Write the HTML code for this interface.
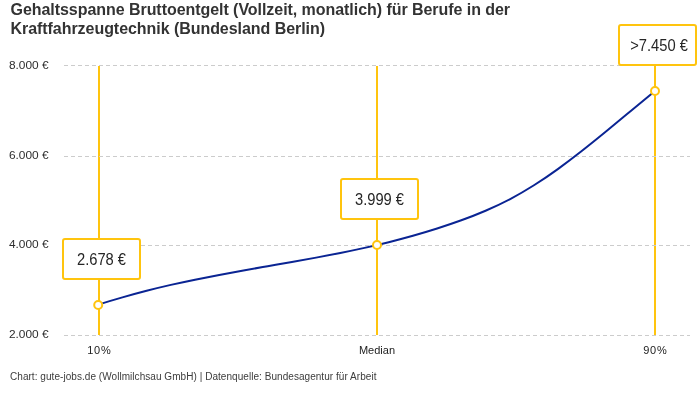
<!DOCTYPE html>
<html><head><meta charset="utf-8"><title>Gehaltsspanne</title>
<style>
html,body{margin:0;padding:0;background:#fff;width:700px;height:400px;overflow:hidden}
svg{display:block;will-change:transform}
text{font-family:"Liberation Sans",sans-serif}
.ti{font-size:16px;font-weight:bold;fill:#333;letter-spacing:-0.05px}
.yl{font-size:11px;fill:#2e2e2e}
.xl{font-size:11px;fill:#222}
.bt{font-size:16px;fill:#262626}
.ft{font-size:10px;fill:#3c3c3c;letter-spacing:0.05px}
</style></head>
<body>
<svg width="700" height="400" viewBox="0 0 700 400">
<text x="10.5" y="15" class="ti">Gehaltsspanne Bruttoentgelt (Vollzeit, monatlich) für Berufe in der</text>
<text x="10.5" y="34" class="ti">Kraftfahrzeugtechnik (Bundesland Berlin)</text>
<rect x="98" y="66" width="2" height="269" fill="#FFC40E"/>
<rect x="376" y="66" width="2" height="269" fill="#FFC40E"/>
<rect x="654" y="66" width="2" height="269" fill="#FFC40E"/>
<line x1="64" y1="65.5" x2="690" y2="65.5" stroke="#cccccc" stroke-width="1" stroke-dasharray="4 3"/>
<text transform="translate(48.5,68.7) scale(1.08,1)" class="yl" text-anchor="end">8.000 €</text>
<line x1="64" y1="156.5" x2="690" y2="156.5" stroke="#cccccc" stroke-width="1" stroke-dasharray="4 3"/>
<text transform="translate(48.5,158.7) scale(1.08,1)" class="yl" text-anchor="end">6.000 €</text>
<line x1="64" y1="245.5" x2="690" y2="245.5" stroke="#cccccc" stroke-width="1" stroke-dasharray="4 3"/>
<text transform="translate(48.5,247.9) scale(1.08,1)" class="yl" text-anchor="end">4.000 €</text>
<line x1="64" y1="335.5" x2="690" y2="335.5" stroke="#cccccc" stroke-width="1" stroke-dasharray="4 3"/>
<text transform="translate(48.5,337.9) scale(1.08,1)" class="yl" text-anchor="end">2.000 €</text>
<path d="M98.20,304.60C106.27,302.10 114.34,299.68 122.41,297.37C130.48,295.06 138.55,292.86 146.62,290.78C154.69,288.69 162.76,286.74 170.83,284.90C178.90,283.06 186.97,281.32 195.03,279.66C203.10,278.01 211.17,276.43 219.24,274.91C227.31,273.39 235.38,271.92 243.45,270.48C251.52,269.04 259.59,267.64 267.66,266.23C275.73,264.82 283.80,263.42 291.87,262.00C299.94,260.57 308.01,259.13 316.08,257.63C324.15,256.14 332.22,254.59 340.29,252.98C348.36,251.36 356.43,249.67 364.50,247.88C372.57,246.09 380.63,244.20 388.70,242.19C396.77,240.18 404.84,238.05 412.91,235.77C420.98,233.50 429.05,231.09 437.12,228.52C445.19,225.95 453.26,223.23 461.33,220.30C469.40,217.37 477.47,214.23 485.54,210.76C493.61,207.30 501.68,203.51 509.75,199.29C517.82,195.07 525.89,190.39 533.96,185.28C542.03,180.17 550.10,174.65 558.17,168.82C566.23,162.99 574.30,156.86 582.37,150.53C590.44,144.19 598.51,137.66 606.58,131.04C614.65,124.42 622.72,117.70 630.79,111.00C638.86,104.30 646.93,97.62 655.00,91.05" fill="none" stroke="#0A2493" stroke-width="2"/>
<rect x="63" y="239" width="77" height="40" rx="2" fill="#fff" stroke="#FFC40E" stroke-width="2"/><text transform="translate(101.5,265) scale(0.92,1)" class="bt" text-anchor="middle">2.678 €</text>
<rect x="341" y="179" width="77" height="40" rx="2" fill="#fff" stroke="#FFC40E" stroke-width="2"/><text transform="translate(379.5,205) scale(0.92,1)" class="bt" text-anchor="middle">3.999 €</text>
<rect x="619" y="25" width="77" height="40" rx="2" fill="#fff" stroke="#FFC40E" stroke-width="2"/><text transform="translate(659.0,51) scale(0.92,1)" class="bt" text-anchor="middle">&gt;7.450 €</text>
<circle cx="98.2" cy="305" r="4" fill="#fff" stroke="#FFC40E" stroke-width="2"/>
<circle cx="377" cy="245" r="4" fill="#fff" stroke="#FFC40E" stroke-width="2"/>
<circle cx="655" cy="91" r="4" fill="#fff" stroke="#FFC40E" stroke-width="2"/>
<text x="99.375" y="354" class="xl" text-anchor="middle" style="letter-spacing:0.75px">10%</text>
<text x="377.0" y="354" class="xl" text-anchor="middle" style="letter-spacing:0.0px">Median</text>
<text x="655.4" y="354" class="xl" text-anchor="middle" style="letter-spacing:0.8px">90%</text>
<text x="10" y="380.4" class="ft">Chart: gute-jobs.de (Wollmilchsau GmbH) | Datenquelle: Bundesagentur für Arbeit</text>
</svg>
</body></html>
